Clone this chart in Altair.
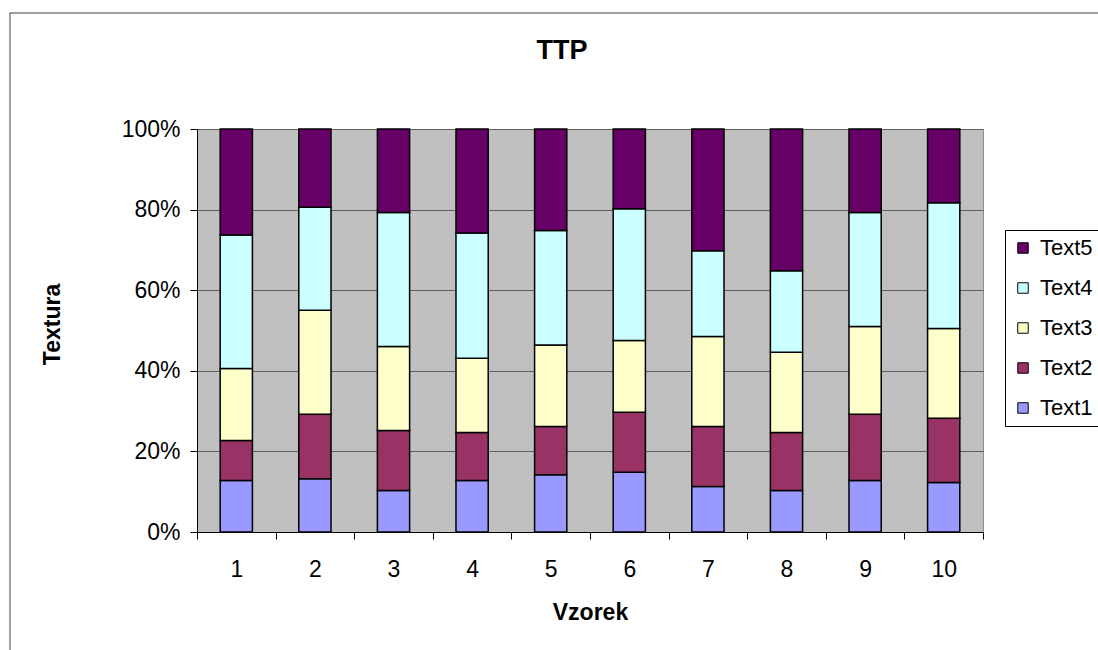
import altair as alt
import pandas as pd

# Share of each texture class per sample (percent of the bar)
samples = list(range(1, 11))
text1 = [12.8, 13.2, 10.3, 12.8, 14.2, 14.8, 11.3, 10.3, 12.8, 12.3]
text2 = [9.9, 16.0, 14.9, 11.9, 12.0, 14.9, 14.9, 14.4, 16.4, 15.9]
text3 = [17.9, 25.8, 20.8, 18.4, 20.2, 17.8, 22.3, 19.9, 21.8, 22.3]
text4 = [33.1, 25.6, 33.3, 31.1, 28.4, 32.7, 21.3, 20.2, 28.3, 31.2]
text5 = [26.3, 19.4, 20.7, 25.8, 25.2, 19.8, 30.2, 35.2, 20.7, 18.3]

series = ["Text1", "Text2", "Text3", "Text4", "Text5"]
colors = ["#9999FF", "#993366", "#FFFFCC", "#CCFFFF", "#660066"]

rows = []
for k, (name, vals) in enumerate(zip(series, [text1, text2, text3, text4, text5])):
    for s, v in zip(samples, vals):
        rows.append({"Vzorek": s, "Textura": name, "value": v, "order": k})
df = pd.DataFrame(rows)

FONT = "Liberation Sans"

bars = alt.Chart(df).mark_bar(
    width=alt.RelativeBandSize(0.41), stroke="black", strokeWidth=1.5
).encode(
    x=alt.X(
        "Vzorek:O",
        title="Vzorek",
        scale=alt.Scale(paddingInner=0, paddingOuter=0),
        axis=alt.Axis(
            labelAngle=0,
            tickBand="extent",
            tickSize=7,
            tickColor="black",
            domainColor="black",
            labelFontSize=23,
            labelFont=FONT,
            labelColor="black",
            labelBaseline="alphabetic",
            labelPadding=37,
            titleFontSize=23,
            titleFont=FONT,
            titleFontWeight="bold",
            titleColor="black",
            titleBaseline="middle",
            titleY=80,
            grid=False,
        ),
    ),
    y=alt.Y(
        "value:Q",
        stack="normalize",
        title="Textura",
        scale=alt.Scale(domain=[0, 1], nice=False),
        axis=alt.Axis(
            format="%",
            values=[0, 0.2, 0.4, 0.6, 0.8, 1.0],
            tickSize=7,
            tickColor="black",
            domainColor="black",
            labelFontSize=23,
            labelFont=FONT,
            labelColor="black",
            labelPadding=10,
            gridColor="#5f5f5f",
            gridWidth=1,
            titleFontSize=23,
            titleFont=FONT,
            titleFontWeight="bold",
            titleColor="black",
            titleBaseline="middle",
            titleX=-145,
            titleY=195,
        ),
    ),
    color=alt.Color(
        "Textura:N",
        scale=alt.Scale(domain=series[::-1], range=colors[::-1]),
        legend=alt.Legend(
            title=None,
            orient="none",
            legendX=808,
            legendY=101,
            symbolType="square",
            symbolSize=110,
            symbolStrokeColor="black",
            symbolStrokeWidth=1,
            symbolOpacity=1,
            labelFontSize=22,
            labelFont=FONT,
            labelColor="black",
            labelOffset=6,
            rowPadding=18,
            padding=7,
            strokeColor="black",
            fillColor="white",
        ),
    ),
    order=alt.Order("order:Q", sort="ascending"),
)

# Outer chart frame
frame = alt.Chart(pd.DataFrame({"f": [0]})).mark_rect(
    fill=None, stroke="#404040", strokeWidth=1
).encode(
    x=alt.value(-187), x2=alt.value(1200), y=alt.value(-116), y2=alt.value(700)
)

chart = alt.layer(frame, bars).properties(
    width=786,
    height=403,
    padding={"left": 197, "top": 129, "right": 115, "bottom": 118},
    autosize=alt.AutoSizeParams(type="none"),
    background="white",
    title=alt.Title(
        "TTP",
        font=FONT,
        fontSize=27,
        fontWeight="bold",
        color="black",
        anchor="middle",
        dx=-28,
        baseline="alphabetic",
        offset=-73,
    ),
).configure_view(fill="#C0C0C0", stroke="#909090", strokeWidth=1)

chart.save("out.html", embed_options={"renderer": "svg", "actions": False})
